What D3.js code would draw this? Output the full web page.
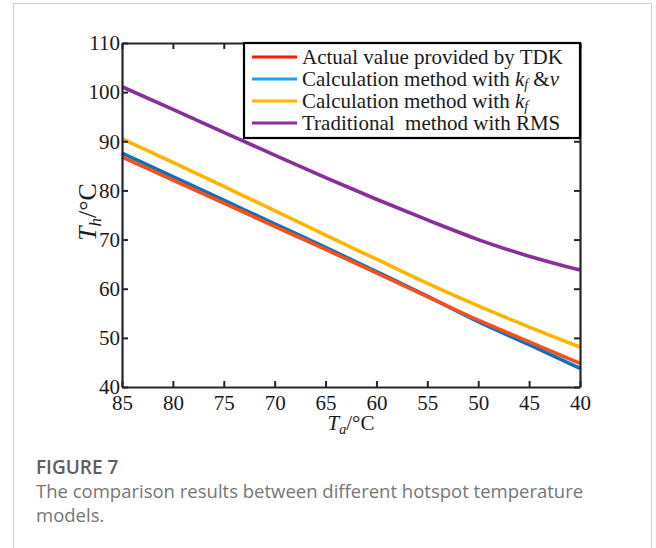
<!DOCTYPE html>
<html>
<head>
<meta charset="utf-8">
<script src="https://cdn.jsdelivr.net/npm/d3@7"></script>
<style>
  body { margin: 0; background: #fff; }
  svg text { white-space: pre; }
</style>
</head>
<body>
<div id="chart"></div>
<script>
// ambient temperature, Ta (degC), plotted right-to-left
var ta = [85, 80, 75, 70, 65, 60, 55, 50, 45, 40];

// hotspot temperature, Th (degC)
var actualTDK   = [86.8, 82.1, 77.4, 72.7, 68.0, 63.2, 58.4, 53.6, 49.2, 44.8];
var calcKfV     = [87.6, 82.8, 78.0, 73.2, 68.4, 63.5, 58.5, 53.3, 48.6, 43.8];
var calcKf      = [90.5, 85.7, 80.8, 75.9, 70.9, 66.0, 61.1, 56.5, 52.2, 48.1];
var traditional = [101.1, 96.5, 91.8, 87.2, 82.6, 78.2, 74.0, 70.0, 66.6, 63.8];

var xTicks = [85, 80, 75, 70, 65, 60, 55, 50, 45, 40];
var yTicks = [40, 50, 60, 70, 80, 90, 100, 110];

var w = 656;
var h = 548;
var pLeft = 122, pRight = 580, pTop = 43, pBottom = 387;

var svg = d3.select("#chart")
  .append("svg")
  .attr("width", w)
  .attr("height", h);

// card frame
svg.append("rect")
  .attr("x", 13.5).attr("y", 3.5)
  .attr("width", 638).attr("height", 600)
  .attr("fill", "none")
  .attr("stroke", "#cfcfcf")
  .attr("stroke-width", 1);

var xScale = d3.scaleLinear().domain([85, 40]).range([pLeft, pRight]);
var yScale = d3.scaleLinear().domain([40, 110]).range([pBottom, pTop]);

var series = [
  { name: "blue",   vals: calcKfV,     color: "#0a72c0" },
  { name: "yellow", vals: calcKf,      color: "#ffb400" },
  { name: "purple", vals: traditional, color: "#86309a" },
  { name: "red",    vals: actualTDK,   color: "#f8501a" }
];

var line = d3.line()
  .x(function(d) { return xScale(d[0]); })
  .y(function(d) { return yScale(d[1]); })
  .curve(d3.curveMonotoneX);

series.forEach(function(s) {
  svg.append("path")
    .datum(d3.zip(ta, s.vals))
    .attr("fill", "none")
    .attr("stroke", s.color)
    .attr("stroke-width", 3.6)
    .attr("d", line);
});

// axes (ticks inward on all four sides)
var axisColor = "#262626";
var fontSerif = "'Liberation Serif', 'Times New Roman', serif";

var xAxis = d3.axisBottom(xScale).tickValues(xTicks).tickSizeInner(-6).tickSizeOuter(0).tickPadding(8);
var xAxisTop = d3.axisTop(xScale).tickValues(xTicks).tickSizeInner(-6).tickSizeOuter(0).tickFormat("");
var yAxis = d3.axisLeft(yScale).tickValues(yTicks).tickSizeInner(-6).tickSizeOuter(0).tickPadding(2);
var yAxisRight = d3.axisRight(yScale).tickValues(yTicks).tickSizeInner(-6).tickSizeOuter(0).tickFormat("");

function styleAxis(g) {
  g.select(".domain").attr("stroke", axisColor).attr("stroke-width", 2.2);
  g.selectAll(".tick line").attr("stroke", axisColor).attr("stroke-width", 2);
  g.selectAll(".tick text")
    .attr("fill", "#1a1a1a")
    .style("font-family", fontSerif)
    .style("font-size", "21px");
}

svg.append("g").attr("transform", "translate(0," + pBottom + ")").call(xAxis).call(styleAxis);
svg.append("g").attr("transform", "translate(0," + pTop + ")").call(xAxisTop).call(styleAxis);
svg.append("g").attr("transform", "translate(" + pLeft + ",0)").call(yAxis).call(styleAxis);
svg.append("g").attr("transform", "translate(" + pRight + ",0)").call(yAxisRight).call(styleAxis);

// axis titles
var xt = svg.append("text")
  .attr("x", 351).attr("y", 430)
  .attr("text-anchor", "middle")
  .attr("fill", "#1a1a1a")
  .style("font-family", fontSerif)
  .style("font-size", "21px");
xt.append("tspan").style("font-style", "italic").text("T");
xt.append("tspan").style("font-style", "italic").style("font-size", "14px").attr("dy", 4).text("a");
xt.append("tspan").attr("dy", -4).text("/°C");

var yt = svg.append("text")
  .attr("transform", "translate(96,212) rotate(-90)")
  .attr("text-anchor", "middle")
  .attr("fill", "#1a1a1a")
  .style("font-family", fontSerif)
  .style("font-size", "26px");
yt.append("tspan").style("font-style", "italic").text("T");
yt.append("tspan").style("font-style", "italic").style("font-size", "17px").attr("dy", 5).text("h");
yt.append("tspan").attr("dy", -5).text("/°C");

// legend
var legendColors = ["#ff1a00", "#14a8e8", "#ffb400", "#86309a"];
var legend = svg.append("g");
legend.append("rect")
  .attr("x", 244).attr("y", pTop)
  .attr("width", pRight - 244).attr("height", 95)
  .attr("fill", "#fff")
  .attr("stroke", "#000")
  .attr("stroke-width", 2.2);

var rowY = [57, 79, 101, 123];
rowY.forEach(function(y, i) {
  legend.append("line")
    .attr("x1", 252).attr("x2", 297)
    .attr("y1", y).attr("y2", y)
    .attr("stroke", legendColors[i])
    .attr("stroke-width", 3);
});

function legendText(i) {
  return legend.append("text")
    .attr("x", 302).attr("y", rowY[i] + 7)
    .attr("fill", "#1a1a1a")
    .style("font-family", fontSerif)
    .style("font-size", "21px");
}
legendText(0).text("Actual value provided by TDK");
var t1 = legendText(1);
t1.append("tspan").text("Calculation method with ");
t1.append("tspan").style("font-style", "italic").text("k");
t1.append("tspan").style("font-style", "italic").style("font-size", "14px").attr("dy", 3).text("f");
t1.append("tspan").attr("dy", -3).text(" &");
t1.append("tspan").style("font-style", "italic").text("v");
var t2 = legendText(2);
t2.append("tspan").text("Calculation method with ");
t2.append("tspan").style("font-style", "italic").text("k");
t2.append("tspan").style("font-style", "italic").style("font-size", "14px").attr("dy", 3).text("f");
legendText(3).text("Traditional  method with RMS");

// caption
var fontSans = "'Open Sans', 'Noto Sans', sans-serif";
svg.append("text")
  .attr("x", 36).attr("y", 474)
  .attr("fill", "#5f5f5f")
  .style("font-family", fontSans)
  .style("font-weight", 600)
  .style("font-size", "19px")
  .text("FIGURE 7");
svg.append("text")
  .attr("x", 36).attr("y", 498)
  .attr("fill", "#767676")
  .style("font-family", fontSans)
  .style("font-size", "18.5px")
  .text("The comparison results between different hotspot temperature");
svg.append("text")
  .attr("x", 36).attr("y", 522)
  .attr("fill", "#767676")
  .style("font-family", fontSans)
  .style("font-size", "18.5px")
  .text("models.");
</script>
</body>
</html>
